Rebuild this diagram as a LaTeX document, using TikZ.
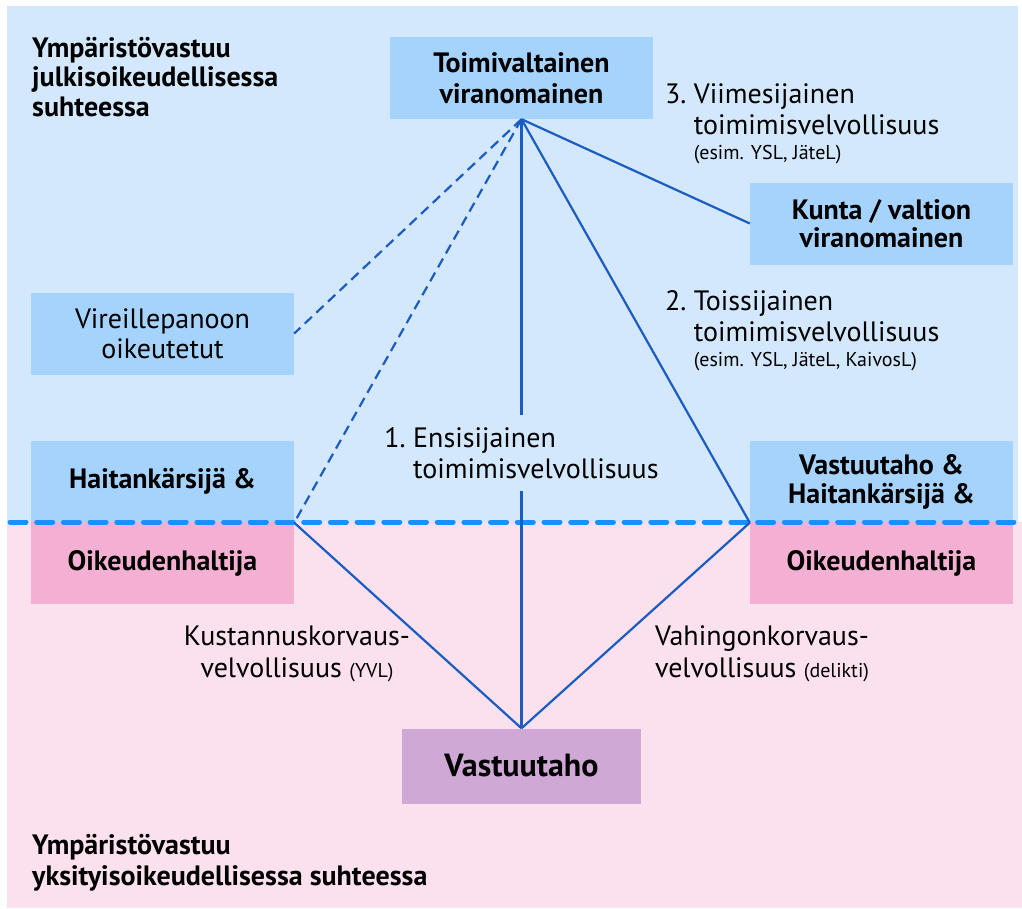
\documentclass[tikz,border=0pt]{standalone}
\usepackage{fontspec}
\setmainfont{PT Sans}

\definecolor{bgblue}{HTML}{D3E8FD}
\definecolor{bgpink}{HTML}{FBE0EE}
\definecolor{boxblue}{HTML}{A6D3FB}
\definecolor{boxpink}{HTML}{F4B0D2}
\definecolor{boxpurple}{HTML}{CFA8D6}
\definecolor{linkblue}{HTML}{1A5CC0}
\definecolor{sepblue}{HTML}{1A90FF}

\tikzset{>=latex}

\begin{document}
\begin{tikzpicture}[x=1pt, y=-1pt]

	\tikzstyle{box_blue} = [fill=boxblue, inner sep=0, minimum width=263, minimum height=82, align=center, font=\fontsize{28}{30}\selectfont\bfseries]
	\tikzstyle{box_pink} = [box_blue, fill=boxpink]
	\tikzstyle{title_text} = [anchor=north west, align=left, inner sep=0, font=\fontsize{28}{30}\selectfont\bfseries]
	\tikzstyle{duty_text} = [anchor=north west, align=left, inner sep=0, font=\fontsize{28}{31.5}\selectfont]
	\tikzstyle{comp_text} = [anchor=base, align=center, inner sep=0, font=\fontsize{28}{32}\selectfont]
	\tikzstyle{link} = [draw=linkblue, line width=2.2]
	\tikzstyle{link_dashed} = [link, dash pattern=on 10 off 6]
	\newcommand{\smalltxt}[1]{{\fontsize{20}{22}\selectfont #1}}

	\useasboundingbox (0,0) rectangle (1022,908);

%------------------------------------------------------------
	\fill[bgblue] (7,6) rectangle (1018,522);
	\fill[bgpink] (7,522) rectangle (1022,908);

	\node[title_text, font=\fontsize{28}{29.7}\selectfont\bfseries] (pub) at (32,36.2) {\strut Ympäristövastuu\\julkisoikeudellisessa\\suhteessa};
	\node[title_text, font=\fontsize{28}{31}\selectfont\bfseries] (priv) at (32,832.3) {\strut Ympäristövastuu\\yksityisoikeudellisessa suhteessa};

%------------------------------------------------------------
	\node[box_blue, font=\fontsize{28}{31}\selectfont\bfseries] (auth) at (521.5,78) {Toimivaltainen\\viranomainen};
	\node[box_blue, font=\fontsize{28}{28.5}\selectfont\bfseries] (state) at (881.5,223.5) {Kunta / valtion\\viranomainen};
	\node[box_blue, font=\fontsize{28}{30}\selectfont] (init) at (162.5,333.5) {Vireillepanoon\\oikeutetut};

	\node[box_blue] (harm_l) at (162.5,481.5) {Haitankärsijä \&};
	\node[box_pink] (hold_l) at (162.5,563) {Oikeudenhaltija};
	\node[box_blue, font=\fontsize{28}{29}\selectfont\bfseries] (harm_r) at (881.5,481.5) {Vastuutaho \&\\Haitankärsijä \&};
	\node[box_pink] (hold_r) at (881.5,563) {Oikeudenhaltija};

	\node[box_blue, fill=boxpurple, minimum width=239, minimum height=75, font=\fontsize{32}{34}\selectfont\bfseries] (resp) at (521.5,766) {Vastuutaho};

%------------------------------------------------------------
	\node[duty_text] (third) at (665,81) {\strut 3.~Viimesijainen\\\hphantom{3.~}toimimisvelvollisuus\\[-7pt]\hphantom{3.~}\smalltxt{(esim. YSL, JäteL)}};
	\node[duty_text] (second) at (665,288) {\strut 2.~Toissijainen\\\hphantom{2.~}toimimisvelvollisuus\\[-7pt]\hphantom{2.~}\smalltxt{(esim. YSL, JäteL, KaivosL)}};
	\node[inner sep=0, minimum height=76, align=left, font=\fontsize{28}{31}\selectfont] (first) at (521.5,453) {1.~Ensisijainen\\\hphantom{1.~}toimimisvelvollisuus};

	\node[comp_text] (cost) at (297,677) {Kustannuskorvaus-\\velvollisuus \smalltxt{(YVL)}};
	\node[comp_text] (damage) at (762,677) {Vahingonkorvaus-\\velvollisuus \smalltxt{(delikti)}};

%------------------------------------------------------------
	\draw[sepblue, line width=5, line cap=round, dash pattern=on 16 off 10.7] (10,522) -- (1014,522);

	\path[link] (auth.south) edge (state.west);
	\path[link] (auth.south) edge (harm_r.south west);
	\path[link] (auth.south) edge (first.north);
	\path[link] (first.south) edge (resp.north);
	\path[link_dashed] (auth.south) edge (init.east);
	\path[link_dashed] (auth.south) edge (harm_l.south east);
	\path[link] (harm_l.south east) edge (resp.north);
	\path[link] (harm_r.south west) edge (resp.north);

\end{tikzpicture}
\end{document}
